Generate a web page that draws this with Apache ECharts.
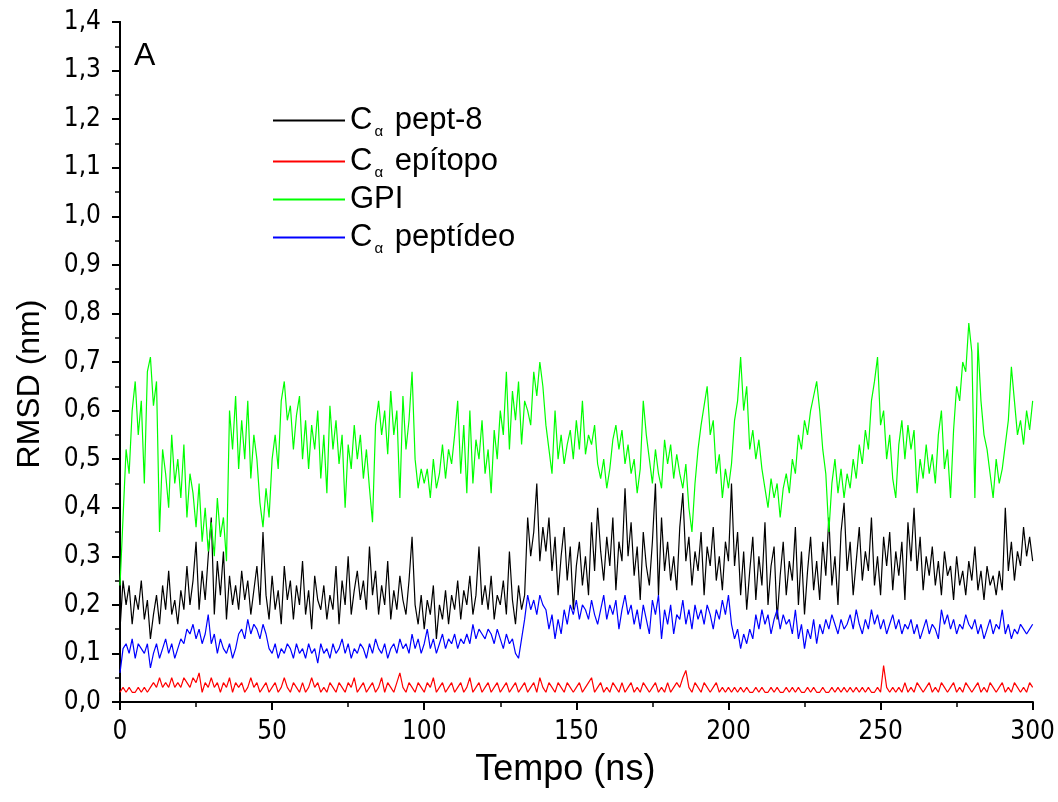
<!DOCTYPE html>
<html>
<head>
<meta charset="utf-8">
<script src="https://cdn.jsdelivr.net/npm/echarts@6/dist/echarts.min.js"></script>
<style>
  html, body { margin: 0; padding: 0; background: #fff; }
  #chart { width: 1058px; height: 802px; }
</style>
</head>
<body>
<div id="chart"></div>
<script>
// RMSD (nm), one value per ns, 0..300 ns
const pept8 = [
  0.15, 0.25, 0.20, 0.24, 0.16, 0.22, 0.19, 0.25, 0.17, 0.21,
  0.13, 0.18, 0.22, 0.16, 0.24, 0.19, 0.27, 0.18, 0.21, 0.16,
  0.23, 0.19, 0.28, 0.20, 0.25, 0.33, 0.19, 0.27, 0.21, 0.30,
  0.38, 0.18, 0.29, 0.22, 0.31, 0.17, 0.26, 0.20, 0.24, 0.19,
  0.27, 0.21, 0.25, 0.18, 0.23, 0.28, 0.20, 0.35, 0.22, 0.17,
  0.26, 0.19, 0.23, 0.16, 0.28, 0.21, 0.25, 0.17, 0.24, 0.20,
  0.29, 0.18, 0.23, 0.15, 0.26, 0.21, 0.19, 0.24, 0.17, 0.22,
  0.19, 0.28, 0.16, 0.25, 0.20, 0.30, 0.18, 0.23, 0.27, 0.21,
  0.25, 0.19, 0.32, 0.22, 0.27, 0.18, 0.24, 0.20, 0.29, 0.17,
  0.23, 0.19, 0.26, 0.21, 0.18, 0.25, 0.34, 0.20, 0.16, 0.22,
  0.15, 0.21, 0.18, 0.24, 0.13, 0.20, 0.17, 0.23, 0.16, 0.22,
  0.19, 0.25, 0.17, 0.23, 0.20, 0.26, 0.18, 0.22, 0.32, 0.20,
  0.24, 0.19, 0.26, 0.17, 0.22, 0.20, 0.25, 0.18, 0.31, 0.21,
  0.16, 0.24, 0.19, 0.22, 0.38, 0.30, 0.35, 0.45, 0.29, 0.36,
  0.31, 0.38, 0.27, 0.34, 0.22, 0.30, 0.36, 0.25, 0.32, 0.19,
  0.28, 0.33, 0.24, 0.30, 0.22, 0.37, 0.27, 0.40, 0.31, 0.25,
  0.34, 0.28, 0.38, 0.23, 0.33, 0.29, 0.44, 0.30, 0.37, 0.26,
  0.32, 0.21, 0.35, 0.28, 0.24, 0.33, 0.45, 0.22, 0.38, 0.27,
  0.33, 0.25, 0.30, 0.23, 0.36, 0.43, 0.29, 0.34, 0.24, 0.31,
  0.27, 0.35, 0.22, 0.32, 0.28, 0.36, 0.25, 0.30, 0.23, 0.33,
  0.29, 0.45, 0.28, 0.35, 0.22, 0.31, 0.19, 0.27, 0.34, 0.21,
  0.30, 0.24, 0.37, 0.20, 0.28, 0.32, 0.17, 0.26, 0.33, 0.22,
  0.29, 0.25, 0.36, 0.20, 0.31, 0.18, 0.27, 0.34, 0.23, 0.29,
  0.21, 0.33, 0.26, 0.38, 0.24, 0.30, 0.20, 0.35, 0.41, 0.27,
  0.33, 0.22, 0.29, 0.36, 0.25, 0.31, 0.27, 0.38, 0.24, 0.30,
  0.22, 0.34, 0.28, 0.35, 0.23, 0.31, 0.26, 0.33, 0.21, 0.37,
  0.29, 0.40, 0.27, 0.34, 0.23, 0.30, 0.26, 0.32, 0.24, 0.29,
  0.22, 0.31, 0.26, 0.28, 0.21, 0.30, 0.24, 0.27, 0.22, 0.29,
  0.25, 0.32, 0.23, 0.27, 0.21, 0.28, 0.24, 0.26, 0.22, 0.27,
  0.23, 0.40, 0.27, 0.33, 0.25, 0.31, 0.28, 0.36, 0.30, 0.34, 0.29
]
const epitopo = [
  0.02, 0.03, 0.02, 0.03, 0.02, 0.02, 0.03, 0.02, 0.03, 0.02,
  0.03, 0.04, 0.03, 0.05, 0.03, 0.04, 0.03, 0.05, 0.03, 0.04,
  0.03, 0.05, 0.04, 0.03, 0.05, 0.04, 0.06, 0.02, 0.04, 0.03,
  0.05, 0.03, 0.04, 0.02, 0.04, 0.03, 0.05, 0.02, 0.04, 0.03,
  0.04, 0.02, 0.03, 0.05, 0.03, 0.04, 0.02, 0.03, 0.04, 0.02,
  0.03, 0.04, 0.02, 0.03, 0.05, 0.03, 0.02, 0.04, 0.03, 0.02,
  0.04, 0.02, 0.03, 0.05, 0.03, 0.04, 0.02, 0.03, 0.02, 0.04,
  0.03, 0.02, 0.04, 0.03, 0.02, 0.04, 0.03, 0.05, 0.02, 0.03,
  0.04, 0.02, 0.03, 0.04, 0.02, 0.03, 0.05, 0.02, 0.04, 0.03,
  0.02, 0.04, 0.06, 0.03, 0.02, 0.04, 0.03, 0.02, 0.04, 0.03,
  0.02, 0.04, 0.03, 0.05, 0.02, 0.03, 0.04, 0.02, 0.03, 0.04,
  0.02, 0.03, 0.04, 0.02, 0.03, 0.05, 0.02, 0.03, 0.04, 0.02,
  0.03, 0.04, 0.02, 0.03, 0.04, 0.02, 0.03, 0.04, 0.02, 0.03,
  0.04, 0.02, 0.03, 0.04, 0.02, 0.03, 0.04, 0.02, 0.05, 0.03,
  0.02, 0.04, 0.03, 0.02, 0.04, 0.03, 0.02, 0.04, 0.03, 0.02,
  0.03, 0.04, 0.02, 0.03, 0.04, 0.05, 0.02, 0.03, 0.04, 0.02,
  0.03, 0.02, 0.04, 0.03, 0.02, 0.04, 0.02, 0.03, 0.04, 0.02,
  0.03, 0.02, 0.04, 0.03, 0.02, 0.03, 0.04, 0.02, 0.03, 0.02,
  0.04, 0.02, 0.03, 0.04, 0.03, 0.05, 0.065, 0.03, 0.02, 0.04,
  0.03, 0.02, 0.04, 0.03, 0.02, 0.03, 0.04, 0.02, 0.03, 0.02,
  0.03, 0.02, 0.03, 0.02, 0.03, 0.02, 0.03, 0.02, 0.02, 0.03,
  0.02, 0.03, 0.02, 0.02, 0.03, 0.02, 0.03, 0.02, 0.02, 0.03,
  0.02, 0.03, 0.02, 0.03, 0.02, 0.02, 0.03, 0.02, 0.03, 0.02,
  0.02, 0.03, 0.02, 0.02, 0.03, 0.02, 0.03, 0.02, 0.03, 0.02,
  0.03, 0.02, 0.03, 0.02, 0.03, 0.02, 0.03, 0.02, 0.02, 0.03,
  0.02, 0.075, 0.03, 0.02, 0.03, 0.02, 0.03, 0.02, 0.04, 0.02,
  0.03, 0.02, 0.04, 0.03, 0.02, 0.03, 0.04, 0.02, 0.03, 0.02,
  0.04, 0.03, 0.02, 0.03, 0.04, 0.02, 0.03, 0.02, 0.04, 0.03,
  0.02, 0.03, 0.04, 0.02, 0.03, 0.02, 0.04, 0.03, 0.02, 0.03,
  0.04, 0.02, 0.03, 0.02, 0.04, 0.03, 0.02, 0.03, 0.02, 0.04, 0.03
]
const gpi = [
  0.24, 0.38, 0.52, 0.47, 0.60, 0.66, 0.55, 0.62, 0.45, 0.68,
  0.71, 0.61, 0.66, 0.35, 0.52, 0.47, 0.40, 0.55, 0.45, 0.50,
  0.42, 0.53, 0.38, 0.47, 0.43, 0.36, 0.45, 0.33, 0.40, 0.31,
  0.37, 0.30, 0.42, 0.34, 0.38, 0.29, 0.60, 0.52, 0.63, 0.48,
  0.58, 0.50, 0.62, 0.46, 0.55, 0.50, 0.41, 0.36, 0.44, 0.38,
  0.50, 0.55, 0.48, 0.62, 0.66, 0.58, 0.61, 0.52, 0.59, 0.63,
  0.50, 0.58, 0.48, 0.57, 0.52, 0.60, 0.46, 0.55, 0.43, 0.61,
  0.52, 0.58, 0.49, 0.55, 0.40, 0.53, 0.48, 0.57, 0.50, 0.55,
  0.46, 0.52, 0.44, 0.37, 0.57, 0.62, 0.55, 0.60, 0.51, 0.64,
  0.55, 0.60, 0.42, 0.63, 0.52, 0.58, 0.68, 0.50, 0.44, 0.48,
  0.45, 0.48, 0.42, 0.50, 0.44, 0.47, 0.53, 0.46, 0.52, 0.49,
  0.55, 0.62, 0.47, 0.57, 0.43, 0.60, 0.45, 0.54, 0.50, 0.58,
  0.47, 0.52, 0.43, 0.56, 0.50, 0.60, 0.55, 0.68, 0.52, 0.64,
  0.58, 0.66, 0.53, 0.62, 0.60, 0.57, 0.68, 0.63, 0.70, 0.65,
  0.57, 0.52, 0.47, 0.60, 0.50, 0.55, 0.49, 0.53, 0.56, 0.50,
  0.58, 0.52, 0.62, 0.51, 0.55, 0.53, 0.57, 0.49, 0.46, 0.50,
  0.44, 0.48, 0.54, 0.57, 0.52, 0.56, 0.49, 0.53, 0.47, 0.50,
  0.43, 0.48, 0.62, 0.55, 0.50, 0.45, 0.52, 0.47, 0.44, 0.54,
  0.49, 0.53, 0.46, 0.51, 0.47, 0.44, 0.49, 0.40, 0.35, 0.45,
  0.52, 0.57, 0.61, 0.65, 0.55, 0.58, 0.47, 0.51, 0.42, 0.48,
  0.44, 0.49, 0.58, 0.62, 0.71, 0.60, 0.65, 0.52, 0.56, 0.50,
  0.54, 0.48, 0.44, 0.40, 0.46, 0.42, 0.45, 0.38, 0.44, 0.47,
  0.43, 0.50, 0.47, 0.55, 0.52, 0.58, 0.55, 0.60, 0.63, 0.66,
  0.60, 0.52, 0.47, 0.35, 0.45, 0.50, 0.43, 0.48, 0.42, 0.47,
  0.44, 0.50, 0.46, 0.53, 0.49, 0.56, 0.52, 0.62, 0.66, 0.71,
  0.57, 0.60, 0.50, 0.55, 0.46, 0.42, 0.53, 0.58, 0.50, 0.57,
  0.52, 0.56, 0.43, 0.50, 0.46, 0.53, 0.47, 0.51, 0.45, 0.55,
  0.60, 0.48, 0.52, 0.42, 0.56, 0.65, 0.62, 0.70, 0.68, 0.78,
  0.72, 0.42, 0.74, 0.62, 0.55, 0.52, 0.47, 0.42, 0.50, 0.45,
  0.48, 0.53, 0.58, 0.69, 0.62, 0.55, 0.58, 0.53, 0.60, 0.56, 0.62
]
const peptideo = [
  0.06, 0.11, 0.12, 0.10, 0.13, 0.09, 0.12, 0.11, 0.10, 0.12,
  0.07, 0.10, 0.12, 0.09, 0.11, 0.13, 0.10, 0.12, 0.09, 0.11,
  0.13, 0.12, 0.15, 0.14, 0.16, 0.13, 0.15, 0.12, 0.14, 0.18,
  0.12, 0.14, 0.10, 0.13, 0.11, 0.10, 0.12, 0.09, 0.11, 0.14,
  0.15, 0.13, 0.17, 0.14, 0.16, 0.15, 0.13, 0.16, 0.14, 0.11,
  0.10, 0.12, 0.09, 0.11, 0.10, 0.12, 0.11, 0.09, 0.12, 0.10,
  0.11, 0.09, 0.12, 0.10, 0.11, 0.08, 0.12, 0.10, 0.11, 0.09,
  0.12, 0.10, 0.11, 0.13, 0.10, 0.12, 0.09, 0.11, 0.10, 0.12,
  0.11, 0.09, 0.12, 0.10, 0.13, 0.11, 0.10, 0.12, 0.09, 0.11,
  0.12, 0.10, 0.13, 0.11, 0.12, 0.10, 0.14, 0.11, 0.13, 0.10,
  0.12, 0.15, 0.11, 0.13, 0.10, 0.12, 0.14, 0.11, 0.13, 0.12,
  0.14, 0.11, 0.13, 0.12, 0.14, 0.12, 0.16, 0.13, 0.15, 0.14,
  0.13, 0.15, 0.14, 0.12, 0.15, 0.13, 0.11, 0.14, 0.12, 0.13,
  0.10, 0.09, 0.13, 0.17, 0.22, 0.19, 0.21, 0.18, 0.22, 0.20,
  0.19, 0.15, 0.18, 0.13, 0.17, 0.14, 0.19, 0.16, 0.20, 0.18,
  0.21, 0.17, 0.20, 0.19, 0.17, 0.21, 0.18, 0.16, 0.19, 0.22,
  0.17, 0.20, 0.18, 0.21, 0.15, 0.19, 0.22, 0.18, 0.20, 0.16,
  0.19, 0.15, 0.20, 0.17, 0.14, 0.21, 0.18, 0.22, 0.13, 0.19,
  0.16, 0.20, 0.14, 0.18, 0.17, 0.21, 0.16, 0.19, 0.15, 0.20,
  0.17, 0.19, 0.16, 0.20, 0.18, 0.15, 0.19, 0.17, 0.21, 0.18,
  0.22, 0.16, 0.13, 0.15, 0.11, 0.14, 0.12, 0.15, 0.13, 0.18,
  0.15, 0.19, 0.16, 0.18, 0.14, 0.17, 0.19, 0.15, 0.18, 0.16,
  0.17, 0.14, 0.19, 0.13, 0.16, 0.11, 0.15, 0.13, 0.17, 0.12,
  0.16, 0.14, 0.17, 0.15, 0.18, 0.16, 0.14, 0.17, 0.15, 0.16,
  0.18, 0.15, 0.19, 0.16, 0.14, 0.17, 0.15, 0.19, 0.16, 0.18,
  0.15, 0.17, 0.14, 0.16, 0.18, 0.15, 0.17, 0.14, 0.16, 0.15,
  0.17, 0.14, 0.16, 0.13, 0.15, 0.17, 0.14, 0.16, 0.15, 0.13,
  0.19, 0.16, 0.18, 0.15, 0.17, 0.14, 0.16, 0.15, 0.18, 0.16,
  0.15, 0.17, 0.14, 0.16, 0.13, 0.15, 0.17, 0.14, 0.16, 0.15,
  0.19, 0.14, 0.16, 0.13, 0.15, 0.14, 0.16, 0.15, 0.14, 0.15, 0.16
]
const seriesNames = ['pept-8', 'epítopo', 'GPI', 'peptídeo']
const seriesColors = ['#000000', '#ff0000', '#00ff00', '#0000ff']
const hasCalpha = [true, true, false, true]

const toPairs = arr => arr.map((v, i) => [i, v])
const allData = [pept8, epitopo, gpi, peptideo]

const chart = echarts.init(document.getElementById('chart'))
const font = 'Liberation Sans, Arial, sans-serif'
const narrow = '"Liberation Sans Narrow", "Arial Narrow", "DejaVu Sans Condensed", sans-serif'
const comma = v => v.toFixed(1).replace('.', ',')

const option = {
  animation: false,
  backgroundColor: '#fff',
  textStyle: { fontFamily: font, color: '#000' },
  grid: { left: 120, right: 25, top: 22, bottom: 100, containLabel: false },
  legend: {
    orient: 'vertical',
    left: 268,
    top: 97,
    itemGap: 4,
    itemWidth: 72,
    itemHeight: 2,
    icon: 'rect',
    data: seriesNames,
    formatter: name => {
      const i = seriesNames.indexOf(name)
      return hasCalpha[i] ? '{t|C}{s|α}{t| ' + name + '}' : '{t|' + name + '}'
    },
    textStyle: {
      rich: {
        t: { fontSize: 31, fontFamily: font, color: '#000', lineHeight: 38 },
        s: { fontSize: 15, fontFamily: font, color: '#000', padding: [22, 3, 0, 2], lineHeight: 38 }
      }
    }
  },
  graphic: [{
    type: 'text', left: 134, top: 40,
    style: { text: 'A', fontSize: 32, fontFamily: font, fill: '#000' }
  }, {
    // y-axis title, placed like the original (slightly below the axis centre)
    type: 'text', x: 30, y: 384, rotation: Math.PI / 2,
    style: { text: 'RMSD (nm)', fontSize: 32, fontFamily: font, fill: '#000', align: 'center', verticalAlign: 'middle' }
  }],
  xAxis: [{
    type: 'value', min: 0, max: 300, interval: 50,
    name: 'Tempo (ns)', nameLocation: 'middle', nameGap: 50,
    nameTextStyle: { fontSize: 36, fontFamily: font, color: '#000', padding: [0, 22, 0, 0] },
    axisLine: { lineStyle: { color: '#000', width: 2 } },
    axisTick: { length: 8, lineStyle: { width: 2 } },
    minorTick: { show: true, splitNumber: 2, length: 5, lineStyle: { color: '#000', width: 1.5 } },
    axisLabel: { fontSize: 26, margin: 17, color: '#000', fontFamily: narrow },
    splitLine: { show: false }
  }, {
    type: 'value', position: 'top', min: 0, max: 300, interval: 25,
    axisLine: { lineStyle: { color: '#000', width: 2 } },
    axisTick: { inside: true, length: 4, lineStyle: { width: 1.5 } },
    axisLabel: { show: false },
    splitLine: { show: false }
  }],
  yAxis: [{
    type: 'value', min: 0, max: 1.4, interval: 0.1,
    axisLine: { show: true, lineStyle: { color: '#000', width: 2 } },
    axisTick: { show: true, length: 8, lineStyle: { width: 2 } },
    minorTick: { show: true, splitNumber: 2, length: 5, lineStyle: { color: '#000', width: 1.5 } },
    axisLabel: { fontSize: 26, margin: 19, color: '#000', fontFamily: narrow, formatter: comma },
    splitLine: { show: false }
  }, {
    type: 'value', position: 'right', min: 0, max: 1.4, interval: 0.1,
    axisLine: { show: true, lineStyle: { color: '#000', width: 2 } },
    axisTick: { show: false },
    axisLabel: { show: false },
    splitLine: { show: false }
  }],
  series: seriesNames.map((name, i) => ({
    name,
    type: 'line',
    data: toPairs(allData[i]),
    showSymbol: false,
    symbol: 'none',
    lineStyle: { color: seriesColors[i], width: 1.2 },
    itemStyle: { color: seriesColors[i] }
  }))
}

chart.setOption(option)
</script>
</body>
</html>
